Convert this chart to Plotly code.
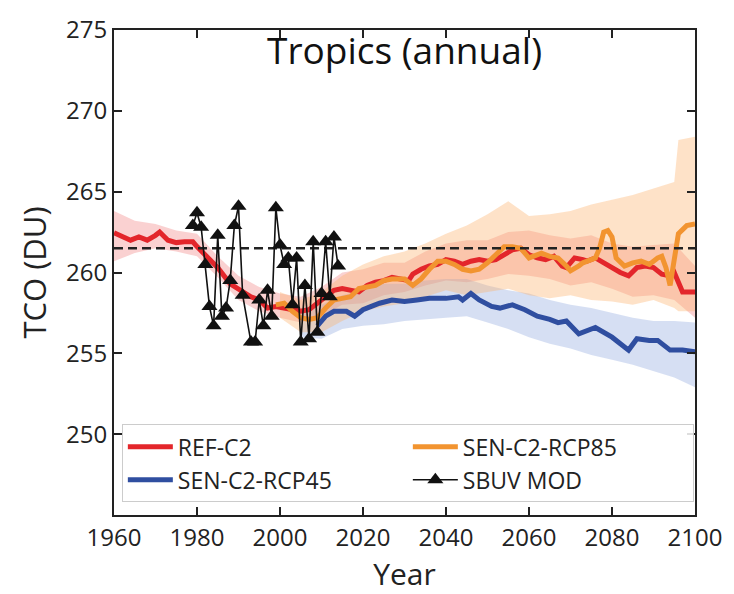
import plotly.graph_objects as go

# ---- REF-C2 multi-model mean and spread ----
ref_years = [1960, 1962, 1964, 1966, 1968, 1970, 1971, 1973, 1975, 1977, 1979, 1980,
             1982, 1985, 1988, 1991, 1993, 1995, 1997, 1999, 2001, 2003, 2005, 2007,
             2009, 2011, 2013, 2015, 2017, 2019, 2021, 2023, 2025, 2027, 2029, 2031,
             2032, 2034, 2036, 2038, 2040, 2042, 2044, 2046, 2048, 2050, 2052, 2054,
             2056, 2058, 2060, 2062, 2064, 2066, 2068, 2069, 2071, 2073, 2074, 2076,
             2078, 2080, 2082, 2084, 2086, 2088, 2090, 2092, 2094, 2095, 2097, 2100]
ref_mean = [262.45, 262.2, 262.0, 262.2, 262.0, 262.3, 262.5, 262.0, 261.85, 261.9, 261.9, 261.6,
            261.1, 260.3, 259.3, 258.8, 258.5, 258.3, 257.8, 257.9, 257.8, 257.7, 257.6, 257.7,
            258.1, 258.5, 258.9, 259.0, 258.9, 258.8, 259.2, 259.4, 259.5, 259.7, 259.6, 259.5,
            259.9, 260.2, 260.4, 260.5, 260.8, 260.7, 260.5, 260.7, 260.8, 260.7, 260.8, 261.1,
            261.4, 261.5, 261.1, 260.9, 260.8, 261.0, 260.4, 260.3, 260.9, 260.8, 260.7, 260.9,
            260.6, 260.3, 260.0, 259.8, 260.3, 260.4, 260.3, 259.9, 259.8, 260.0, 258.8, 258.8]
ref_band_years = list(range(1960, 2101, 5))
ref_lo = [260.7, 261.2, 261.5, 261.3, 261.0, 259.7, 258.3, 257.6, 257.2, 256.9, 257.3, 258.0,
          258.1, 258.6, 258.8, 259.2, 259.5, 259.4, 259.6, 259.9, 259.8, 259.6, 259.2, 259.4,
          259.0, 258.5, 258.6, 258.3, 257.2]
ref_hi = [263.8, 263.2, 263.0, 262.6, 262.4, 261.0, 259.8, 259.1, 258.7, 258.5, 259.1, 260.0,
          260.2, 260.6, 260.6, 261.3, 261.8, 262.0, 262.0, 262.5, 262.6, 262.3, 262.1, 262.3,
          261.8, 261.6, 261.7, 261.8, 260.4]

# ---- SEN-C2-RCP45 ----
rcp45_years = [2009, 2011, 2013, 2016, 2018, 2020, 2022, 2024, 2027, 2030,
               2033, 2036, 2040, 2043, 2044, 2046, 2048, 2051, 2053, 2056, 2059, 2062, 2065,
               2067, 2069, 2072, 2076, 2080, 2084, 2086, 2089, 2091, 2094, 2097, 2100]
rcp45_mean = [256.7, 257.3, 257.6, 257.6, 257.3, 257.7, 257.9, 258.1, 258.3, 258.2,
              258.3, 258.4, 258.4, 258.5, 258.3, 258.7, 258.3, 257.9, 257.8, 258.0, 257.7, 257.3, 257.1,
              256.9, 257.0, 256.2, 256.6, 256.0, 255.2, 255.9, 255.8, 255.8, 255.2, 255.2, 255.1]
rcp45_band_years = list(range(2005, 2101, 5))
rcp45_lo = [256.0, 255.9, 256.5, 256.7, 256.8, 257.0, 257.1, 257.2, 257.3, 256.9, 256.5, 256.0,
            255.6, 255.3, 254.9, 254.6, 254.3, 253.9, 253.5, 252.9]
rcp45_hi = [257.8, 258.0, 258.6, 258.9, 259.3, 259.3, 259.5, 259.6, 259.6, 259.2, 258.9, 258.7,
            258.3, 258.0, 257.8, 257.5, 257.2, 257.0, 257.0, 256.9]

# ---- SEN-C2-RCP85 ----
rcp85_years = [1999, 2001, 2003, 2005, 2007, 2009, 2011, 2013, 2015, 2017, 2019, 2021, 2023,
               2025, 2027, 2029, 2030, 2032, 2034, 2036, 2038, 2040, 2042, 2044, 2046, 2048,
               2050, 2052, 2054, 2056, 2058, 2060, 2062, 2063, 2065, 2067, 2069, 2070, 2072,
               2073, 2075, 2076, 2077, 2078, 2079, 2080, 2081, 2083, 2085, 2087, 2089, 2091,
               2092, 2093, 2094, 2095, 2096, 2098, 2100]
rcp85_mean = [258.0, 258.1, 257.6, 257.2, 257.1, 257.2, 257.8, 258.3, 258.4, 258.5, 259.0, 259.1, 259.2,
              259.5, 259.6, 259.6, 259.6, 259.2, 259.6, 260.2, 260.7, 260.7, 260.5, 260.2, 260.1, 260.2,
              260.6, 261.1, 261.6, 261.6, 261.5, 260.9, 261.1, 261.2, 261.0, 260.9, 260.4, 260.1, 260.4,
              260.6, 260.8, 260.9, 261.5, 262.5, 262.6, 262.2, 260.9, 260.4, 260.6, 260.7, 260.5, 260.9,
              261.0, 260.3, 259.2, 260.8, 262.4, 262.9, 263.0]
rcp85_band_years = [2000, 2005, 2010, 2015, 2020, 2025, 2030, 2035, 2040, 2045, 2050, 2055, 2060,
                    2065, 2070, 2075, 2080, 2085, 2090, 2095, 2096, 2100]
rcp85_lo = [257.2, 256.3, 256.3, 257.0, 257.6, 257.9, 258.1, 258.5, 258.9, 258.6, 258.8, 259.0, 258.6,
            258.4, 258.6, 258.3, 258.2, 258.0, 258.3, 257.8, 257.6, 257.6]
rcp85_hi = [258.8, 258.3, 258.8, 259.8, 260.5, 261.0, 261.3, 261.8, 262.4, 262.9, 263.6, 264.4, 263.5,
            263.6, 263.8, 264.2, 264.5, 264.8, 265.2, 265.6, 268.2, 268.4]

# ---- SBUV MOD observations (annual) ----
sbuv_years = list(range(1979, 1992)) + list(range(1993, 2015))
sbuv_tco = [262.9, 263.7, 262.8, 260.5, 257.9, 256.7, 262.3, 257.3, 257.8, 259.5, 262.9, 264.1,
            258.6, 255.7, 255.7, 258.3, 256.7, 258.9, 257.3, 264.0, 261.7, 260.5, 260.9, 258.0,
            260.9, 255.7, 259.2, 255.9, 261.9, 256.3, 258.7, 261.9, 258.5, 262.2, 260.4]

# 1980 reference level
ref_1980 = 261.5

RED = "#e3262b"
BLUE = "#2f4ea0"
ORANGE = "#f29430"
FONT = "Open Sans"

fig = go.Figure()


def band(years, lo, hi, color):
    fig.add_trace(go.Scatter(
        x=list(years) + list(years)[::-1],
        y=list(hi) + list(lo)[::-1],
        fill="toself", fillcolor=color, line=dict(width=0),
        mode="lines", hoverinfo="skip", showlegend=False))


band(ref_band_years, ref_lo, ref_hi, "rgba(238,90,90,0.28)")
band(rcp45_band_years, rcp45_lo, rcp45_hi, "rgba(120,150,215,0.30)")
band(rcp85_band_years, rcp85_lo, rcp85_hi, "rgba(252,180,110,0.38)")

fig.add_trace(go.Scatter(x=ref_years, y=ref_mean, mode="lines", name="REF-C2",
                         line=dict(color=RED, width=5), legendrank=1))
fig.add_trace(go.Scatter(x=rcp45_years, y=rcp45_mean, mode="lines", name="SEN-C2-RCP45",
                         line=dict(color=BLUE, width=5), legendrank=3))
fig.add_trace(go.Scatter(x=rcp85_years, y=rcp85_mean, mode="lines", name="SEN-C2-RCP85",
                         line=dict(color=ORANGE, width=5), legendrank=2))

fig.add_trace(go.Scatter(x=[1960, 2100], y=[ref_1980, ref_1980], mode="lines",
                         line=dict(color="#222222", width=2.4, dash="9px,5px"),
                         hoverinfo="skip", showlegend=False))

fig.add_trace(go.Scatter(x=sbuv_years, y=sbuv_tco, mode="lines+markers", name="SBUV MOD",
                         line=dict(color="#111111", width=1.6),
                         marker=dict(symbol="triangle-up", size=14, color="#111111"),
                         legendrank=4))

axis_common = dict(
    showline=True, linecolor="#222222", linewidth=2, mirror="ticks",
    ticks="inside", ticklen=8, tickwidth=1.5, tickcolor="#222222",
    showgrid=False, zeroline=False,
    tickfont=dict(family=FONT, size=24, color="#222222"),
)

fig.update_xaxes(range=[1960, 2100], tickvals=list(range(1960, 2101, 20)),
                 title=dict(text="Year", font=dict(family=FONT, size=30, color="#222222"), standoff=8),
                 **axis_common)
fig.update_yaxes(range=[245, 275], tickvals=list(range(250, 276, 5)),
                 title=dict(text="TCO (DU)", font=dict(family=FONT, size=31, color="#222222"), standoff=10),
                 **axis_common)

fig.add_annotation(text="Tropics (annual)", x=0.5, y=0.96, xref="paper", yref="paper",
                   xanchor="center", yanchor="middle", showarrow=False,
                   font=dict(family=FONT, size=37, color="#111111"))

fig.update_layout(
    width=734, height=594, autosize=False,
    margin=dict(l=114, r=28, t=20, b=76),
    plot_bgcolor="white", paper_bgcolor="white",
    legend=dict(orientation="h", x=0.0135, y=0.026, xanchor="left", yanchor="bottom",
                bgcolor="rgba(255,255,255,0.85)", bordercolor="#cccccc", borderwidth=1,
                font=dict(family=FONT, size=23, color="#222222"),
                entrywidth=225, entrywidthmode="pixels", traceorder="normal",
                itemwidth=45),
)

fig.write_html("out.html")
